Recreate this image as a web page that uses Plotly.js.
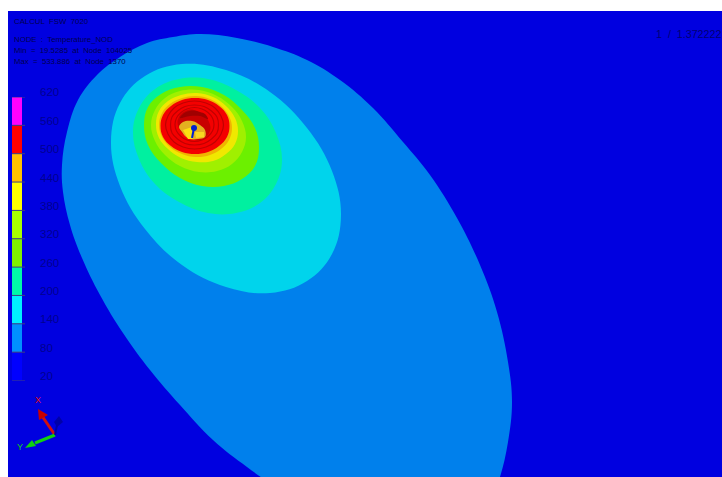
<!DOCTYPE html>
<html><head><meta charset="utf-8">
<script src="https://cdn.plot.ly/plotly-3.0.1.min.js"></script>
<style>html,body{margin:0;padding:0;background:#fff}#c{width:722px;height:477px}</style>
</head><body><div id="c"></div>
<script>
// Contour outlines, outermost first
const contourOuter=[[200,34],[173,37],[147,43],[120,57],[97,75],[78,100],[67,132],[62,165],[63,192],[70,225],[82,258],[100,295],[123,333],[150,370],[180,405],[213,440],[247,467],[280,490],[320,515],[400,545],[470,530],[492,497],[500,477],[508,442],[512,402],[508,362],[497,312],[480,265],[457,218],[430,175],[403,142],[373,108],[340,80],[307,60],[273,47],[237,38]];
const contourCyan=[[341,215],[332,254],[307,281],[270,293],[226,287],[182,265],[145,229],[120,186],[111,142],[120,103],[145,76],[182,64],[226,70],[270,92],[307,128],[332,171]];
const contourMint=[[282,160],[276,184],[260,203],[236,213],[208,213],[179,202],[155,184],[139,159],[133,132],[139,108],[155,89],[179,79],[208,79],[236,90],[260,108],[276,133]];
const contourGreen=[[259,148],[255,166],[242,179],[224,186],[202,186],[180,178],[161,163],[148,145],[144,125],[148,107],[161,94],[180,87],[202,87],[224,95],[242,110],[255,128]];
const contourLime=[[246,137],[242,152],[232,164],[217,171],[199,172],[180,166],[165,155],[155,141],[151,125],[155,110],[165,98],[180,91],[199,90],[217,96],[232,107],[242,121]];
const contourYellow=[[238,131],[235,144],[226,154],[213,161],[197,162],[181,158],[168,149],[159,138],[156,124],[159,111],[168,101],[181,95],[197,93],[213,97],[226,106],[235,118]];
const contourOrange=[[232,128],[229,140],[221,149],[210,155],[196,157],[182,154],[170,147],[162,137],[159,125],[162,113],[170,104],[182,98],[196,96],[210,99],[221,106],[229,116]];
const contourRed=[[229.5,126],[227,137],[219,146],[208,152],[195,154],[182,152],[171,146],[163,137],[160.5,126],[163,115],[171,106],[182,100],[195,98],[208,100],[219,106],[227,115]];
const contourHole=[[210.5,128],[209,133],[206,137],[200,140],[194,140],[188,137],[182,133],[179,128],[177.5,122],[179,117],[182,113],[188,110],[194,110],[200,113],[206,117],[209,122]];
const contourHoleTop=[[194,110.5],[185,112.5],[180,118],[190,116],[200,116],[208,119],[205,114],[200,112]];
const blobOrange=[[179,127],[183,122],[192,121],[200,125],[205,130],[205,137],[198,139],[190,139],[185,136],[182,132]];
const blobYellowA=[[183,130],[192,127],[193,139],[188,139]];
const blobYellowB=[[195,132],[204,132],[204,137],[196,138]];
const ring1=[[223.5,125],[221,134],[215,142],[206,147],[194.5,149],[183,147],[174,142],[168,134],[165.5,125],[168,116],[174,108],[183,103],[194.5,101],[206,103],[215,108],[221,116],[223.5,125]];
const ring2=[[218.5,125],[217,133],[211.5,139],[204,143.5],[194.5,145],[185,143.5],[177.5,139],[172,133],[170.5,125],[172,117],[177.5,111],[185,106.5],[194.5,105],[204,106.5],[211.5,111],[217,117],[218.5,125]];
const ring3=[[214,124.5],[212.5,131],[208,136.5],[202,140],[194.5,141.5],[187,140],[181,136.5],[176.5,131],[175,124.5],[176.5,118],[181,112.5],[187,109],[194.5,107.5],[202,109],[208,112.5],[212.5,118],[214,124.5]];
const needle=[[194,128],[192,138]];
// Triad
const redShaft=[[55,435],[42,416]];
const redCone=[[38,409],[39,420],[48,415]];
const greenShaft=[[55,435],[35,443]];
const greenCone=[[25,448],[32,440],[36,446]];
const blueShaft=[[55,435],[57,425]];
const blueCone=[[59,416],[54,422],[57,427],[63,422]];
// Colour scale
const legendTicks=[620,560,500,440,380,320,260,200,140,80,20];
const legendLow=[560,500,440,380,320,260,200,140,80,20];
const legendStep=[60,60,60,60,60,60,60,60,60,60];
const legendColors=['#ff00ff','#ff0000','#ffc000','#ffff00','#a8ff00','#80f000','#00f8a8','#00f0ff','#0090ff','#0000ff'];
// Texts
const headerLines=['CALCUL\u00a0\u00a0FSW\u00a0\u00a07020','NODE\u00a0\u00a0:\u00a0\u00a0Temperature_NOD','Min\u00a0\u00a0=\u00a0\u00a019.5285\u00a0\u00a0at\u00a0\u00a0Node\u00a0\u00a0104025','Max\u00a0\u00a0=\u00a0\u00a0533.886\u00a0\u00a0at\u00a0\u00a0Node\u00a0\u00a01370'];
const headerY=[21,39,50,61];

const xs=p=>p.map(a=>a[0]), ys=p=>p.map(a=>a[1]);
const area=(p,color,smooth)=>({type:'scatter',mode:'lines',x:xs(p).concat(p[0][0]),y:ys(p).concat(p[0][1]),fill:'toself',fillcolor:color,
  line:{color:color,width:0,shape:smooth?'spline':'linear',smoothing:1.1},hoverinfo:'skip'});
const line=(p,color,w,smooth)=>({type:'scatter',mode:'lines',x:xs(p),y:ys(p),line:{color:color,width:w,shape:smooth?'spline':'linear'},hoverinfo:'skip'});

const tx=[],ty=[];
legendTicks.forEach(v=>{tx.push(0,13,null);ty.push(v,v,null);});

const traces=[
 area(contourOuter,'#0080ec',true),area(contourCyan,'#00d4ec',true),area(contourMint,'#00f0a0',true),
 area(contourGreen,'#6cf000',true),area(contourLime,'#a0f000',true),area(contourYellow,'#f0e800',true),
 area(contourOrange,'#f0b400',true),area(contourRed,'#f40000',true),
 line(ring1,'#c00000',1.2,true),line(ring2,'#c00000',1.2,true),line(ring3,'#c00000',1.2,true),
 area(contourHole,'#c80000',true),area(contourHoleTop,'#a00000',true),
 area(blobOrange,'#e4b020',true),area(blobYellowA,'#fce010',false),area(blobYellowB,'#f8d820',false),
 line(needle,'#0020d0',2,false),
 {type:'scatter',mode:'markers',x:[needle[0][0]],y:[needle[0][1]],marker:{color:'#0020d0',size:6},hoverinfo:'skip'},
 line(redShaft,'#d01010',3,false),area(redCone,'#c80000',false),
 line(greenShaft,'#10d010',3,false),area(greenCone,'#10d010',false),
 line(blueShaft,'#0000a8',2,false),area(blueCone,'#0000a8',false),
 {type:'bar',xaxis:'x2',yaxis:'y2',x:legendLow.map(()=>5),y:legendStep,base:legendLow,width:10,marker:{color:legendColors,line:{width:0}},hoverinfo:'skip'},
 {type:'scatter',mode:'lines',xaxis:'x2',yaxis:'y2',x:tx,y:ty,line:{color:'#404080',width:1},hoverinfo:'skip'}
];

const ann=(t,x,y,size,color)=>({text:t,x:x,y:y,xref:'x',yref:'y',xanchor:'left',yanchor:'middle',showarrow:false,align:'left',font:{family:'Liberation Sans',size:size,color:color}});
const annotations=headerLines.map((t,i)=>ann(t,12,headerY[i],7.8,'#000050'));
annotations.push(ann('1\u00a0\u00a0/\u00a0\u00a01.372222',653.5,34,10.7,'#000070'));
annotations.push(ann('X',33,400,9,'#e01010'));
annotations.push(ann('Y',15,447,9,'#10d010'));
legendTicks.forEach(v=>annotations.push({text:String(v),x:38,y:v,xref:'x',yref:'y2',xanchor:'left',yanchor:'middle',yshift:4.5,showarrow:false,font:{family:'Liberation Sans',size:11.5,color:'#000090'}}));

const layout={width:722,height:477,margin:{l:8,t:11,r:0,b:0,pad:0},paper_bgcolor:'#ffffff',plot_bgcolor:'#0000e0',showlegend:false,
 xaxis:{range:[8,722],visible:false,domain:[0,1]},
 yaxis:{range:[477,11],visible:false,domain:[0,1]},
 xaxis2:{range:[0,13],domain:[4/714,17/714],visible:false,anchor:'y2'},
 yaxis2:{range:[20,620],domain:[96.5/466,380/466],anchor:'x2',visible:false},
 annotations:annotations};
Plotly.newPlot('c',traces,layout,{displayModeBar:false,staticPlot:true});
</script></body></html>
